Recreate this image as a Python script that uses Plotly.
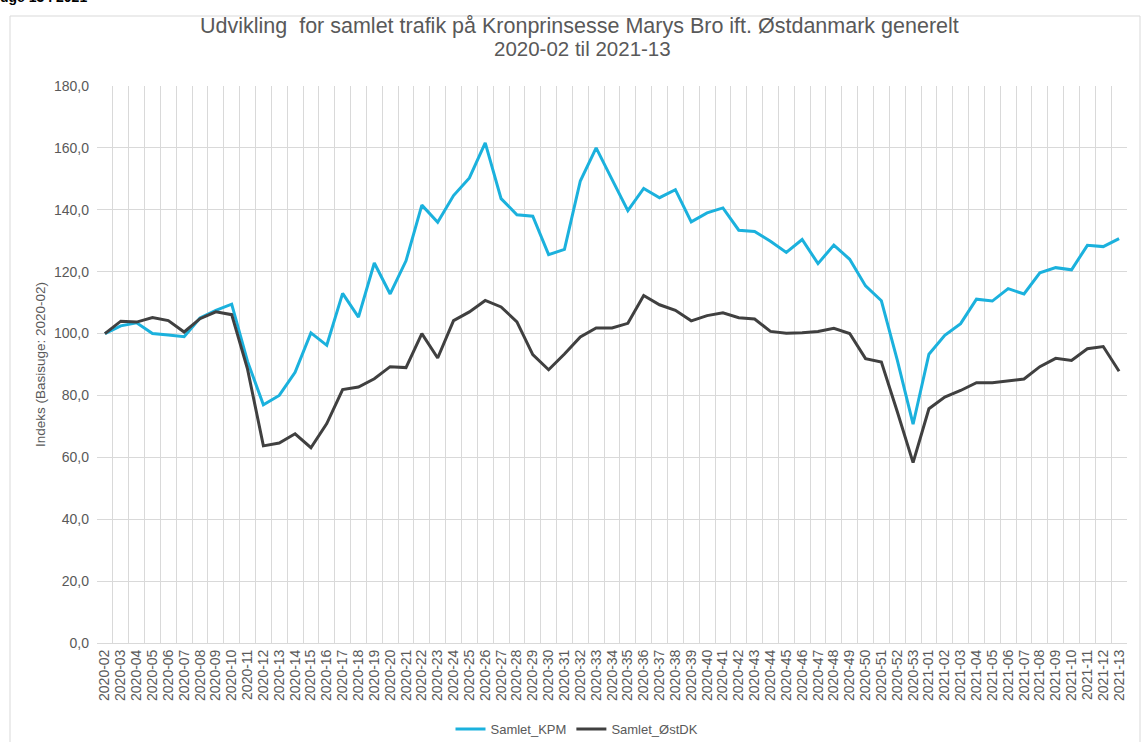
import plotly.graph_objects as go

weeks = [f"2020-{w:02d}" for w in range(2, 54)] + [f"2021-{w:02d}" for w in range(1, 14)]

samlet_kpm = [100.0, 102.5, 103.5, 100.0, 99.5, 99.0, 105.0, 107.5, 109.5, 91.0,
              77.0, 80.0, 87.5, 100.2, 96.2, 113.0, 105.3, 122.8, 112.8, 123.5,
              141.5, 136.0, 144.6, 150.3, 161.6, 143.6, 138.4, 137.9, 125.5, 127.2,
              149.3, 160.0, 149.8, 139.7, 146.9, 143.9, 146.5, 136.1, 139.0, 140.6,
              133.4, 133.0, 129.8, 126.2, 130.4, 122.6, 128.6, 124.0, 115.4, 110.6,
              91.5, 70.7, 93.3, 99.4, 103.2, 111.1, 110.5, 114.5, 112.8, 119.6,
              121.3, 120.6, 128.5, 128.1, 130.7]

samlet_ostdk = [100.0, 104.0, 103.7, 105.2, 104.2, 100.5, 104.8, 107.0, 106.1, 88.5,
                63.7, 64.6, 67.6, 63.1, 70.9, 81.9, 82.7, 85.4, 89.3, 89.0,
                100.0, 92.1, 104.2, 107.0, 110.7, 108.6, 103.8, 93.2, 88.3, 93.4,
                98.9, 101.8, 101.8, 103.3, 112.3, 109.3, 107.5, 104.1, 105.8, 106.7,
                105.1, 104.7, 100.7, 100.1, 100.3, 100.7, 101.7, 100.0, 91.9, 90.8,
                74.8, 58.3, 75.7, 79.5, 81.6, 84.1, 84.1, 84.8, 85.3, 89.3,
                92.0, 91.3, 95.1, 95.8, 87.8]

y_ticks = [0, 20, 40, 60, 80, 100, 120, 140, 160, 180]

title_line1 = "Udvikling  for samlet trafik på Kronprinsesse Marys Bro ift. Østdanmark generelt"
title_line2 = "2020-02 til 2021-13"
clipped_heading = "uge 13 i 2021"

grey_text = "#595959"
grid = "#D9D9D9"

W, H = 1142, 742
ML, MR, MT, MB = 97, 15, 86, 99
PW, PH = W - ML - MR, H - MT - MB


def px_x(px):
    return (px - ML) / PW


def px_y(py):
    return 1 + (MT - py) / PH


fig = go.Figure()
fig.add_trace(go.Scatter(x=weeks, y=samlet_kpm, mode="lines", name="Samlet_KPM",
                         line=dict(color="#1BB1DD", width=3)))
fig.add_trace(go.Scatter(x=weeks, y=samlet_ostdk, mode="lines", name="Samlet_ØstDK",
                         line=dict(color="#404040", width=3)))

fig.update_layout(
    width=W, height=H,
    paper_bgcolor="white", plot_bgcolor="white",
    margin=dict(l=ML, r=MR, t=MT, b=MB, autoexpand=False),
    separators=",.",
    font=dict(family="Liberation Sans, Arial, sans-serif", color=grey_text, size=13),
    showlegend=True,
    legend=dict(orientation="h", x=px_x(577), xanchor="center", y=px_y(714), yanchor="top",
                font=dict(size=13, color=grey_text)),
    xaxis=dict(type="category", categoryorder="array", categoryarray=weeks,
               range=[-0.5, len(weeks) - 0.5], tickmode="linear", dtick=1,
               tickson="boundaries", showgrid=True, gridcolor=grid, gridwidth=1,
               tickangle=-90, tickfont=dict(size=14, color=grey_text),
               ticks="", showline=True, linecolor=grid, automargin=False),
    yaxis=dict(range=[0, 180], tickvals=y_ticks, tickformat=".1f",
               showgrid=True, gridcolor=grid, gridwidth=1, zeroline=False,
               ticks="", ticklabelstandoff=7,
               tickfont=dict(size=14, color=grey_text), automargin=False,
               title=dict(text="Indeks (Basisuge: 2020-02)", font=dict(size=13.5, color=grey_text), standoff=5)),
    annotations=[
        dict(text=title_line1, xref="paper", yref="paper", x=px_x(579), y=px_y(26),
             xanchor="center", yanchor="middle", showarrow=False,
             font=dict(size=21.5, color=grey_text)),
        dict(text=title_line2, xref="paper", yref="paper", x=px_x(582), y=px_y(49),
             xanchor="center", yanchor="middle", showarrow=False,
             font=dict(size=20.5, color=grey_text)),
        dict(text="<b>" + clipped_heading + "</b>", xref="paper", yref="paper", x=px_x(-2), y=px_y(7),
             xanchor="left", yanchor="bottom", showarrow=False,
             font=dict(size=14, color="#000000")),
    ],
    shapes=[
        dict(type="rect", xref="paper", yref="paper", x0=px_x(10), x1=px_x(1140), y0=px_y(760), y1=px_y(16),
             line=dict(color="#D9D9D9", width=1), fillcolor="rgba(0,0,0,0)", layer="below"),
    ],
)

fig.write_html("out.html",
               config={"displayModeBar": False},
               post_script="document.body.style.margin='0';document.body.style.overflow='hidden';")
